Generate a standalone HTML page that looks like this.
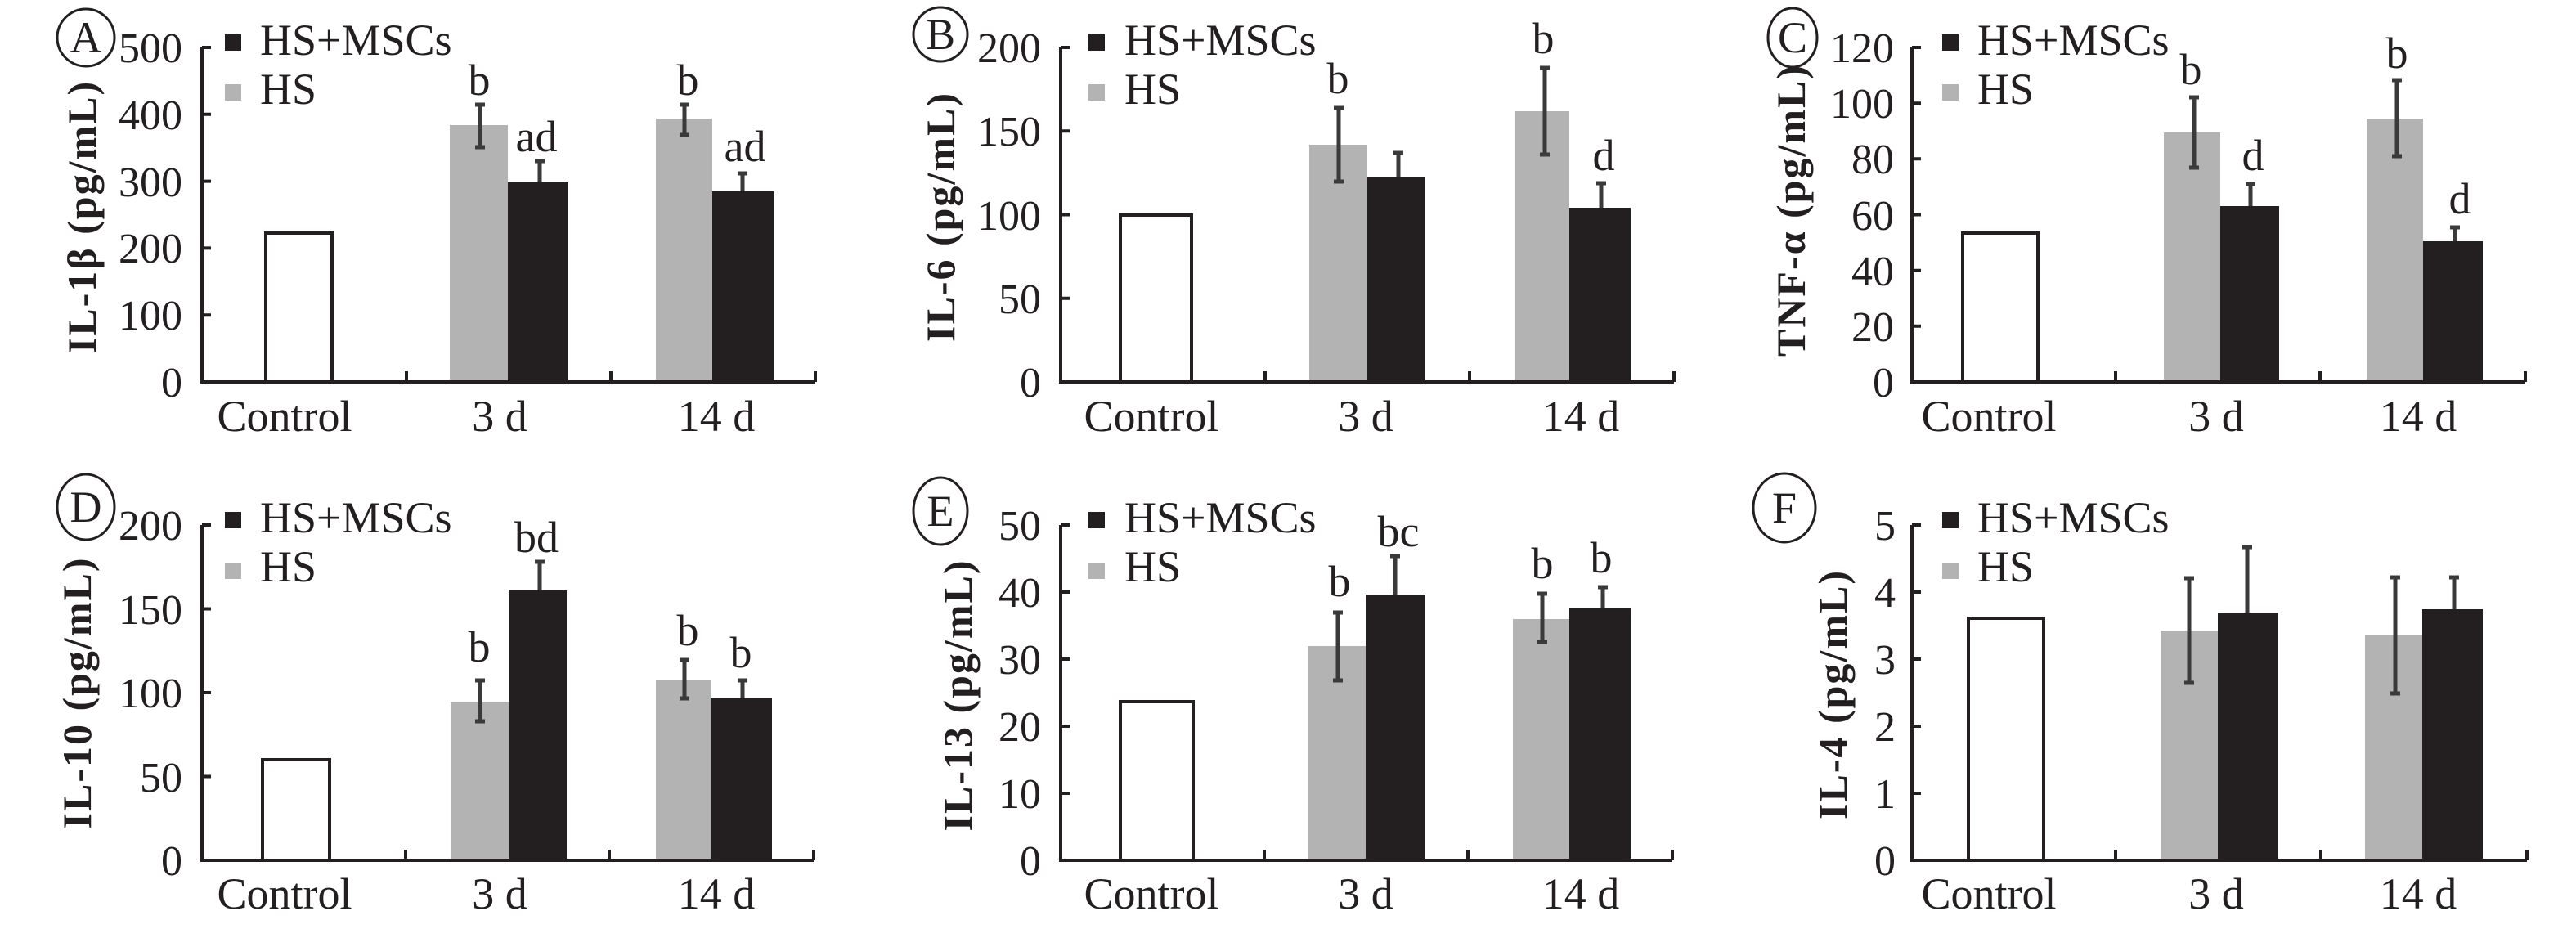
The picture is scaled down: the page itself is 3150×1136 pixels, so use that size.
<!DOCTYPE html>
<html><head><meta charset="utf-8"><style>
html,body{margin:0;padding:0;background:#fff;}
svg{display:block;}
text{font-family:"Liberation Serif","DejaVu Serif",serif;fill:#231f20;}
.t{font-size:52px;text-anchor:end;}
.x{font-size:54px;text-anchor:middle;}
.a{font-size:54px;text-anchor:middle;}
.l{font-size:54px;}
.y{font-size:50px;font-weight:bold;text-anchor:middle;letter-spacing:2px;}
.c{font-size:54px;text-anchor:middle;}
.ax{stroke:#231f20;stroke-width:4;fill:none;}
.g{fill:#b3b3b3;}
.k{fill:#231f20;}
.w{fill:#fff;stroke:#231f20;stroke-width:4;}
.e{stroke:#3a3a3a;stroke-width:5;fill:none;}
</style></head><body>
<svg width="3150" height="1136" viewBox="0 0 3150 1136" xmlns="http://www.w3.org/2000/svg">

<!-- Panel A -->
<g transform="translate(0,0)">
<ellipse cx="105" cy="46" rx="35" ry="35" fill="none" stroke="#231f20" stroke-width="3"/>
<text class="c" x="105" y="64">A</text>
<text class="y" transform="translate(100,265) rotate(-90)" y="17">IL-1β (pg/mL)</text>
<rect class="k" x="275" y="42" width="20" height="20"/><text class="l" x="318" y="67">HS+MSCs</text>
<rect class="g" x="275" y="103" width="20" height="20"/><text class="l" x="318" y="127">HS</text>
<rect class="w" x="325" y="285" width="81" height="182"/>
<rect class="g" x="550" y="153" width="71" height="314"/>
<rect class="k" x="621" y="223" width="74" height="244"/>
<rect class="g" x="802" y="145" width="69" height="322"/>
<rect class="k" x="871" y="234" width="75" height="233"/>
<path class="e" d="M587 128V180M581 128h12M581 180h12M660 197V223M654 197h12M837 128V165M831 128h12M831 165h12M908 212V234M902 212h12"/>
<path class="ax" d="M247 58V467H997M247 58h11M247 139.8h11M247 221.6h11M247 303.4h11M247 385.2h11M497 467v-13M747 467v-13M997 467v-13"/>
<text class="t" x="223" y="76">500</text><text class="t" x="223" y="158">400</text><text class="t" x="223" y="240">300</text><text class="t" x="223" y="321">200</text><text class="t" x="223" y="403">100</text><text class="t" x="223" y="485">0</text>
<text class="x" x="348" y="527">Control</text><text class="x" x="611" y="527">3 d</text><text class="x" x="876" y="527">14 d</text>
<text class="a" x="586" y="116">b</text><text class="a" x="656" y="185">ad</text><text class="a" x="841" y="116">b</text><text class="a" x="911" y="197">ad</text>
</g>

<!-- Panel B -->
<g transform="translate(1050,0)">
<ellipse cx="100" cy="42" rx="33" ry="33" fill="none" stroke="#231f20" stroke-width="3"/>
<text class="c" x="100" y="60">B</text>
<text class="y" transform="translate(100,265) rotate(-90)" y="17">IL-6 (pg/mL)</text>
<rect class="k" x="281" y="42" width="20" height="20"/><text class="l" x="325" y="67">HS+MSCs</text>
<rect class="g" x="281" y="103" width="20" height="20"/><text class="l" x="325" y="127">HS</text>
<rect class="w" x="320" y="263" width="87" height="204"/>
<rect class="g" x="551" y="177" width="71" height="290"/>
<rect class="k" x="622" y="216" width="71" height="251"/>
<rect class="g" x="802" y="136" width="67" height="331"/>
<rect class="k" x="869" y="254" width="75" height="213"/>
<path class="e" d="M587 132V222M581 132h12M581 222h12M660 187V216M654 187h12M839 83V189M833 83h12M833 189h12M908 224V254M902 224h12"/>
<path class="ax" d="M247 58V467H997M247 58h11M247 160.25h11M247 262.5h11M247 364.75h11M497 467v-13M747 467v-13M997 467v-13"/>
<text class="t" x="223" y="76">200</text><text class="t" x="223" y="178">150</text><text class="t" x="223" y="281">100</text><text class="t" x="223" y="383">50</text><text class="t" x="223" y="485">0</text>
<text class="x" x="358" y="527">Control</text><text class="x" x="620" y="527">3 d</text><text class="x" x="883" y="527">14 d</text>
<text class="a" x="586" y="114">b</text><text class="a" x="837" y="65">b</text><text class="a" x="911" y="208">d</text>
</g>

<!-- Panel C -->
<g transform="translate(2100,0)">
<ellipse cx="92" cy="46" rx="30" ry="36" fill="none" stroke="#231f20" stroke-width="3"/>
<text class="c" x="92" y="64">C</text>
<text class="y" transform="translate(90,257) rotate(-90)" y="17">TNF-α (pg/mL)</text>
<rect class="k" x="275" y="42" width="20" height="20"/><text class="l" x="318" y="67">HS+MSCs</text>
<rect class="g" x="275" y="103" width="20" height="20"/><text class="l" x="318" y="127">HS</text>
<rect class="w" x="300" y="285" width="92" height="182"/>
<rect class="g" x="546" y="162" width="69" height="305"/>
<rect class="k" x="615" y="252" width="72" height="215"/>
<rect class="g" x="794" y="145" width="69" height="322"/>
<rect class="k" x="863" y="295" width="73" height="172"/>
<path class="e" d="M583 119V205M577 119h12M577 205h12M652 225V252M646 225h12M831 98V191M825 98h12M825 191h12M902 278V295M896 278h12"/>
<path class="ax" d="M238 58V467H988M238 58h11M238 126.2h11M238 194.3h11M238 262.5h11M238 330.7h11M238 398.8h11M487 467v-13M737 467v-13M988 467v-13"/>
<text class="t" x="216" y="76">120</text><text class="t" x="216" y="144">100</text><text class="t" x="216" y="212">80</text><text class="t" x="216" y="281">60</text><text class="t" x="216" y="349">40</text><text class="t" x="216" y="417">20</text><text class="t" x="216" y="485">0</text>
<text class="x" x="332" y="527">Control</text><text class="x" x="610" y="527">3 d</text><text class="x" x="857" y="527">14 d</text>
<text class="a" x="579" y="103">b</text><text class="a" x="655" y="208">d</text><text class="a" x="831" y="83">b</text><text class="a" x="908" y="261">d</text>
</g>

<!-- Panel D -->
<g transform="translate(0,568)">
<ellipse cx="105" cy="52" rx="35" ry="40" fill="none" stroke="#231f20" stroke-width="3"/>
<text class="c" x="105" y="70">D</text>
<text class="y" transform="translate(94,279) rotate(-90)" y="17">IL-10 (pg/mL)</text>
<rect class="k" x="275" y="58" width="20" height="20"/><text class="l" x="318" y="83">HS+MSCs</text>
<rect class="g" x="275" y="120" width="20" height="20"/><text class="l" x="318" y="143">HS</text>
<rect class="w" x="321" y="361" width="82" height="123"/>
<rect class="g" x="551" y="290" width="72" height="194"/>
<rect class="k" x="623" y="154" width="70" height="330"/>
<rect class="g" x="802" y="264" width="67" height="220"/>
<rect class="k" x="869" y="286" width="75" height="198"/>
<path class="e" d="M587 264V314M581 264h12M581 314h12M660 119V154M654 119h12M837 239V286M831 239h12M831 286h12M908 264V286M902 264h12"/>
<path class="ax" d="M247 74V484H995M247 74h11M247 176.5h11M247 279h11M247 381.5h11M496 484v-13M745 484v-13M995 484v-13"/>
<text class="t" x="223" y="92">200</text><text class="t" x="223" y="195">150</text><text class="t" x="223" y="297">100</text><text class="t" x="223" y="400">50</text><text class="t" x="223" y="502">0</text>
<text class="x" x="348" y="543">Control</text><text class="x" x="611" y="543">3 d</text><text class="x" x="876" y="543">14 d</text>
<text class="a" x="586" y="241">b</text><text class="a" x="656" y="107">bd</text><text class="a" x="841" y="221">b</text><text class="a" x="906" y="248">b</text>
</g>

<!-- Panel E -->
<g transform="translate(1050,568)">
<ellipse cx="100" cy="57" rx="33" ry="41" fill="none" stroke="#231f20" stroke-width="3"/>
<text class="c" x="100" y="75">E</text>
<text class="y" transform="translate(121,282) rotate(-90)" y="17">IL-13 (pg/mL)</text>
<rect class="k" x="281" y="58" width="20" height="20"/><text class="l" x="325" y="83">HS+MSCs</text>
<rect class="g" x="281" y="120" width="20" height="20"/><text class="l" x="325" y="143">HS</text>
<rect class="w" x="320" y="290" width="89" height="194"/>
<rect class="g" x="549" y="222" width="71" height="262"/>
<rect class="k" x="620" y="159" width="73" height="325"/>
<rect class="g" x="800" y="189" width="69" height="295"/>
<rect class="k" x="869" y="176" width="75" height="308"/>
<path class="e" d="M586 181V264M580 181h12M580 264h12M656 112V159M650 112h12M836 158V217M830 158h12M830 217h12M910 150V176M904 150h12"/>
<path class="ax" d="M247 74V484H995M247 74h11M247 156h11M247 238h11M247 320h11M247 402h11M496 484v-13M745 484v-13M995 484v-13"/>
<text class="t" x="223" y="92">50</text><text class="t" x="223" y="174">40</text><text class="t" x="223" y="256">30</text><text class="t" x="223" y="338">20</text><text class="t" x="223" y="420">10</text><text class="t" x="223" y="502">0</text>
<text class="x" x="358" y="543">Control</text><text class="x" x="620" y="543">3 d</text><text class="x" x="883" y="543">14 d</text>
<text class="a" x="588" y="161">b</text><text class="a" x="660" y="100">bc</text><text class="a" x="836" y="139">b</text><text class="a" x="908" y="132">b</text>
</g>

<!-- Panel F -->
<g transform="translate(2100,568)">
<ellipse cx="82" cy="53" rx="38" ry="42" fill="none" stroke="#231f20" stroke-width="3"/>
<text class="c" x="82" y="71">F</text>
<text class="y" transform="translate(141,281) rotate(-90)" y="17">IL-4 (pg/mL)</text>
<rect class="k" x="275" y="58" width="20" height="20"/><text class="l" x="318" y="83">HS+MSCs</text>
<rect class="g" x="275" y="120" width="20" height="20"/><text class="l" x="318" y="143">HS</text>
<rect class="w" x="307" y="188" width="92" height="296"/>
<rect class="g" x="542" y="203" width="70" height="281"/>
<rect class="k" x="612" y="181" width="74" height="303"/>
<rect class="g" x="792" y="208" width="70" height="276"/>
<rect class="k" x="862" y="177" width="74" height="307"/>
<path class="e" d="M577 139V267M571 139h12M571 267h12M648 101V181M642 101h12M829 138V280M823 138h12M823 280h12M901 138V177M895 138h12"/>
<path class="ax" d="M238 74V484H990M238 74h11M238 156h11M238 238h11M238 320h11M238 402h11M487 484v-13M738 484v-13M990 484v-13"/>
<text class="t" x="218" y="92">5</text><text class="t" x="218" y="174">4</text><text class="t" x="218" y="256">3</text><text class="t" x="218" y="338">2</text><text class="t" x="218" y="420">1</text><text class="t" x="218" y="502">0</text>
<text class="x" x="332" y="543">Control</text><text class="x" x="610" y="543">3 d</text><text class="x" x="857" y="543">14 d</text>
</g>

</svg>
</body></html>
